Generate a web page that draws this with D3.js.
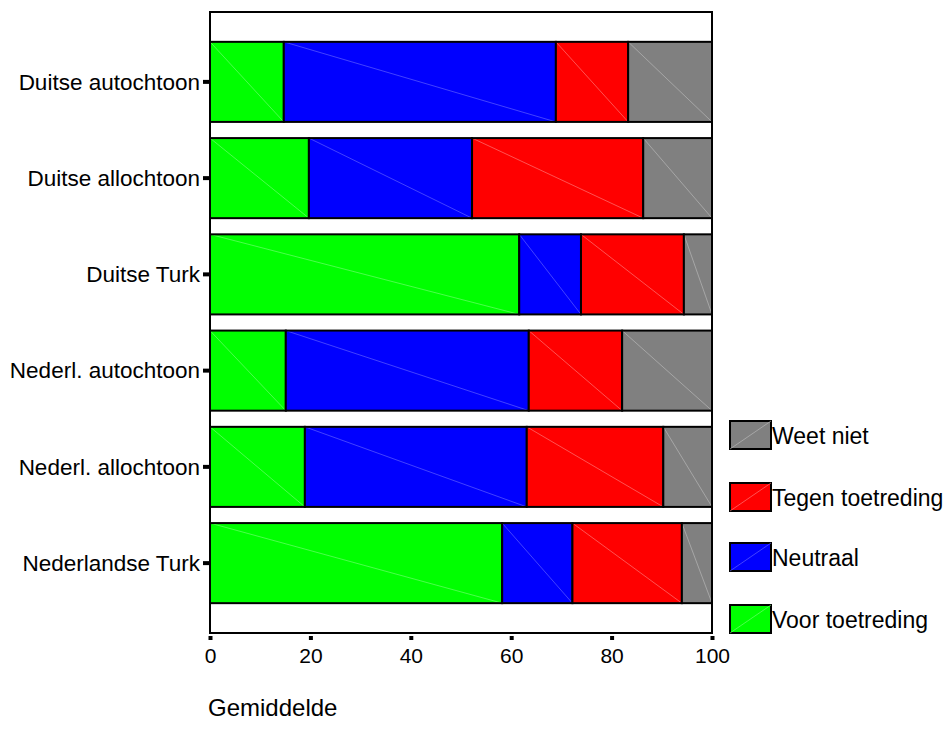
<!DOCTYPE html>
<html><head><meta charset="utf-8">
<script src="https://cdn.jsdelivr.net/npm/d3@7"></script>
<style>body{margin:0;background:#fff;} text{font-family:"Liberation Sans",Arial,sans-serif;}</style>
</head><body>
<svg id="c" width="946" height="737"></svg>
<script>
const categories = ["Duitse autochtoon","Duitse allochtoon","Duitse Turk","Nederl. autochtoon","Nederl. allochtoon","Nederlandse Turk"];
const seriesNames = ["Voor toetreding","Neutraal","Tegen toetreding","Weet niet"];
const voor      = [14.7, 19.7, 61.6, 15.1, 18.9, 58.2];
const neutraal  = [54.2, 32.5, 12.3, 48.4, 44.2, 14.0];
const tegen     = [14.4, 34.1, 20.5, 18.6, 27.2, 21.8];
const weetNiet  = [16.7, 13.7,  5.6, 17.9,  9.7,  6.0];
const xTicks = [0,20,40,60,80,100];
const colors = ["#00ff00","#0000ff","#ff0000","#808080"];
const diagColors = ["#7dff7d","#6f6fff","#ff8a8a","#c0c0c0"];

const svg = d3.select("#c");
const L=210, R=712, T=12, B=633;
const x = d3.scaleLinear().domain([0,100]).range([L,R]);
const y = d3.scaleBand().domain(categories).range([T,B]).paddingInner(0.168).paddingOuter(0.31);

// frame
svg.append("rect").attr("x",L).attr("y",T).attr("width",R-L).attr("height",B-T)
  .attr("fill","#fff").attr("stroke","#000").attr("stroke-width",2);

const rows = categories.map((c,i)=>({cat:c, vals:[voor[i],neutraal[i],tegen[i],weetNiet[i]]}));
const stack = d3.stack().keys([0,1,2,3]).value((d,k)=>d.vals[k])(rows);

stack.forEach((layer,k)=>{
  const g = svg.append("g");
  layer.forEach(seg=>{
    const x0=x(seg[0]), x1=x(Math.min(seg[1],100)), y0=y(seg.data.cat), h=y.bandwidth();
    g.append("rect").attr("x",x0).attr("y",y0).attr("width",x1-x0).attr("height",h)
      .attr("fill",colors[k]).attr("stroke","none");
    g.append("line").attr("x1",x0).attr("y1",y0).attr("x2",x1).attr("y2",y0+h)
      .attr("stroke",diagColors[k]).attr("stroke-width",0.6);
    g.append("rect").attr("x",x0).attr("y",y0).attr("width",x1-x0).attr("height",h)
      .attr("fill","none").attr("stroke","#000").attr("stroke-width",2);
  });
});

// y axis
const ya = svg.append("g").attr("transform",`translate(${L-1},0)`)
  .call(d3.axisLeft(y).tickSize(6).tickPadding(3));
ya.select(".domain").remove();
ya.selectAll(".tick line").attr("stroke","#000").attr("stroke-width",4);
ya.selectAll(".tick text").attr("font-size",22.5).attr("fill","#000").attr("dy","0.35em");

// x axis
const xa = svg.append("g").attr("transform",`translate(0,${B+3})`)
  .call(d3.axisBottom(x).tickValues(xTicks).tickSize(4).tickPadding(8));
xa.select(".domain").remove();
xa.selectAll(".tick line").attr("stroke","#000").attr("stroke-width",4);
xa.selectAll(".tick text").attr("font-size",21).attr("fill","#000");

svg.append("text").attr("x",208).attr("y",716).attr("font-size",24).attr("fill","#000").text("Gemiddelde");

// legend
const legendOrder = [3,2,1,0];
const legTops = [421,483,543,605];
legendOrder.forEach((k,i)=>{
  const ty = legTops[i];
  svg.append("rect").attr("x",730).attr("y",ty).attr("width",41).attr("height",28)
    .attr("fill",colors[k]).attr("stroke","#000").attr("stroke-width",2);
  svg.append("line").attr("x1",730).attr("y1",ty+28).attr("x2",771).attr("y2",ty)
    .attr("stroke",diagColors[k]).attr("stroke-width",0.6);
  svg.append("text").attr("x",772).attr("y",ty+15).attr("dy","0.35em").attr("font-size",23)
    .attr("fill","#000").text(seriesNames[k]);
});
</script>
</body></html>
